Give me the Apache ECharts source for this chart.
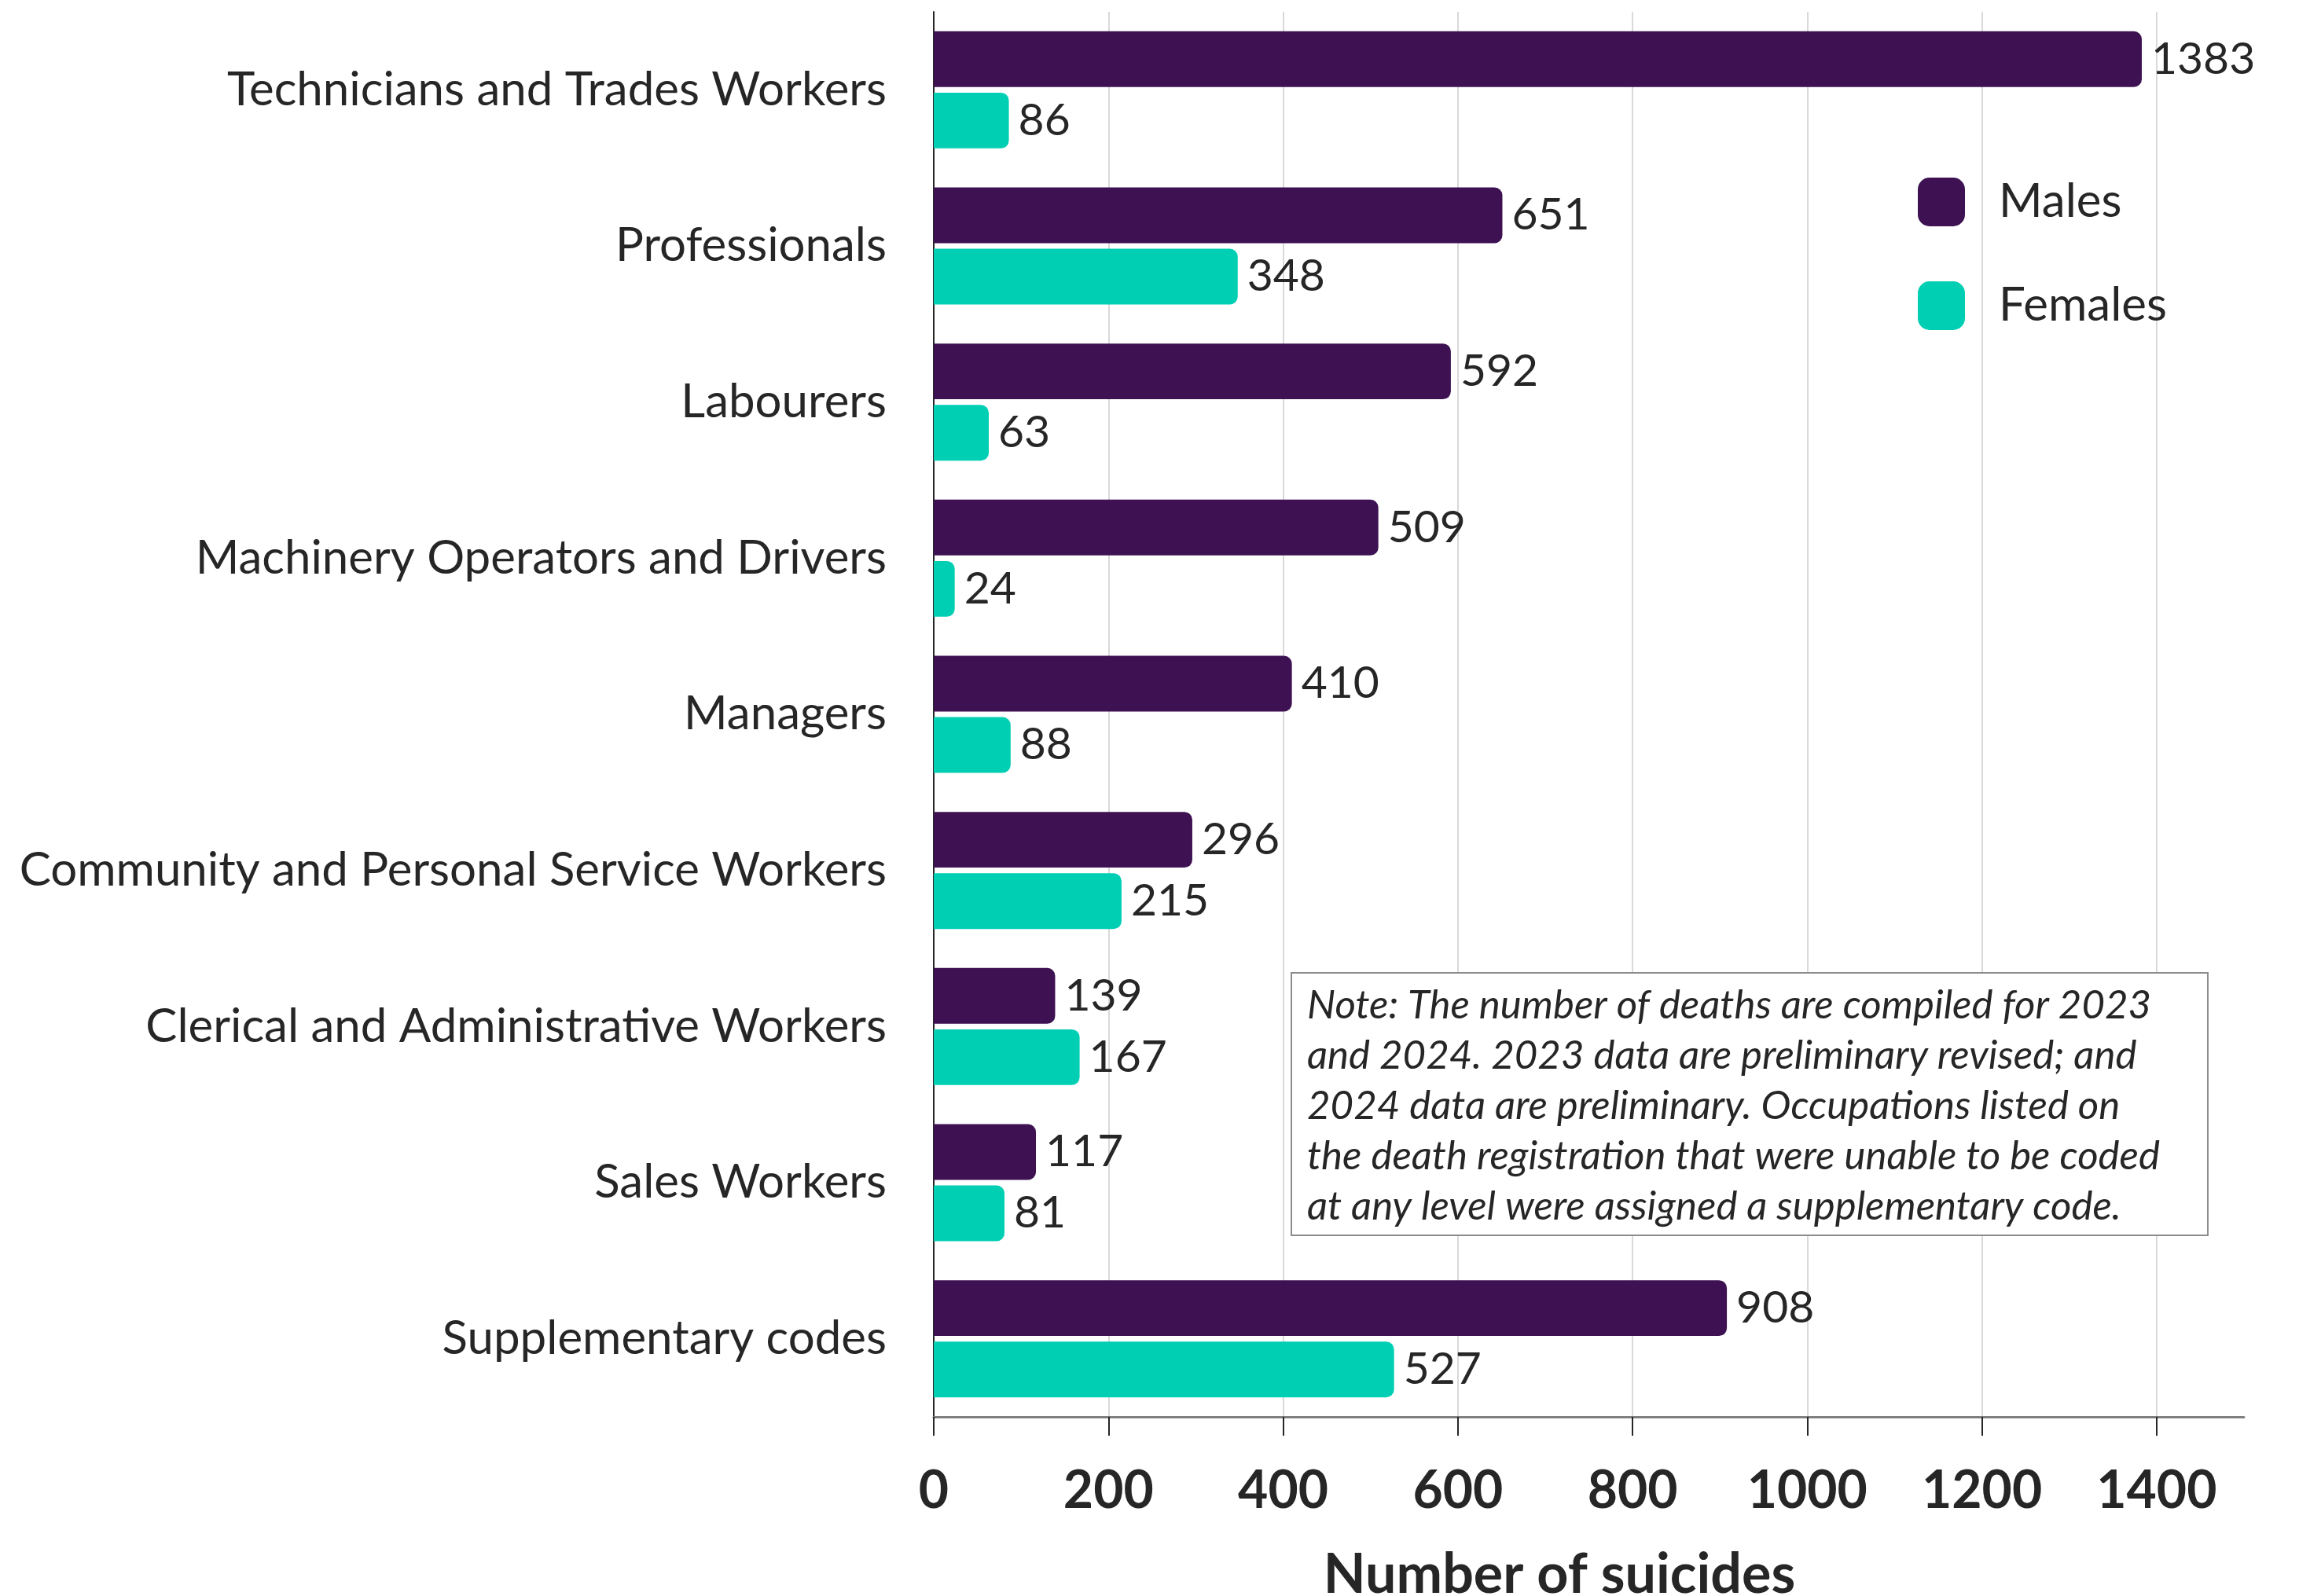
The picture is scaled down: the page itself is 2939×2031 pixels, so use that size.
<!DOCTYPE html>
<html>
<head>
<meta charset="utf-8">
<script src="https://cdn.jsdelivr.net/npm/echarts@6/dist/echarts.min.js"></script>
<style>
  html, body { margin: 0; padding: 0; background: #fff; }
  #chart { width: 2939px; height: 2031px; }
</style>
</head>
<body>
<div id="chart"></div>
<script>
var categories = [
    'Technicians and Trades Workers',
    'Professionals',
    'Labourers',
    'Machinery Operators and Drivers',
    'Managers',
    'Community and Personal Service Workers',
    'Clerical and Administrative Workers',
    'Sales Workers',
    'Supplementary codes'
];
var males = [1383, 651, 592, 509, 410, 296, 139, 117, 908];
var females = [86, 348, 63, 24, 88, 215, 167, 81, 527];

var noteLines = [
    'Note: The number of deaths are compiled for 2023',
    'and 2024. 2023 data are preliminary revised; and',
    '2024 data are preliminary. Occupations listed on',
    'the death registration that were unable to be coded',
    'at any level were assigned a supplementary code.'
];

var textColor = '#262626';
var fontFamily = 'Lato, "Open Sans", sans-serif';

var myChart = echarts.init(document.getElementById('chart'));

var valueLabel = {
    show: true,
    position: 'right',
    distance: 12,
    color: textColor,
    fontSize: 57,
    fontFamily: fontFamily
};

var option = {
    backgroundColor: '#fff',
    animation: false,
    textStyle: { fontFamily: fontFamily },
    grid: {
        left: 1188,
        right: 84,
        top: 15,
        bottom: 228,
        containLabel: false,
        outerBoundsMode: 'none'
    },
    legend: {
        orient: 'vertical',
        left: 2435,
        top: 221,
        icon: 'roundRect',
        itemWidth: 60,
        itemHeight: 62,
        itemGap: 70,
        textStyle: { color: textColor, fontSize: 60, fontFamily: fontFamily, padding: [0, 0, 0, 38] },
        data: ['Males', 'Females']
    },
    xAxis: {
        type: 'value',
        min: 0,
        max: 1500,
        interval: 200,
        name: 'Number of suicides',
        nameLocation: 'middle',
        nameGap: 166,
        nameTextStyle: {
            color: textColor,
            fontSize: 70,
            fontWeight: 'bold',
            fontFamily: fontFamily,
            padding: [0, 75, 0, 0]
        },
        axisLine: { show: true, lineStyle: { color: '#7f7f7f', width: 3 } },
        axisTick: { show: true, length: 24, lineStyle: { color: '#262626', width: 2 } },
        axisLabel: {
            color: textColor,
            fontSize: 66,
            fontWeight: 'bold',
            fontFamily: fontFamily,
            margin: 62,
            showMaxLabel: false,
            formatter: function (v) { return String(v); }
        },
        splitLine: {
            show: true,
            lineStyle: {
                color: ['#d9d9d9', '#d9d9d9', '#d9d9d9', '#d9d9d9', '#d9d9d9', '#d9d9d9', '#d9d9d9', '#d9d9d9', 'rgba(0,0,0,0)'],
                width: 2
            }
        }
    },
    yAxis: {
        type: 'category',
        inverse: true,
        data: categories,
        axisLine: { show: true, lineStyle: { color: '#262626', width: 2 } },
        axisTick: { show: false },
        axisLabel: {
            color: textColor,
            fontSize: 60,
            fontFamily: fontFamily,
            margin: 60
        }
    },
    series: [
        {
            name: 'Males',
            type: 'bar',
            data: males,
            barCategoryGap: '25%',
            barGap: '10%',
            itemStyle: { color: '#3d1152', borderRadius: [0, 10, 10, 0] },
            label: valueLabel
        },
        {
            name: 'Females',
            type: 'bar',
            data: females,
            itemStyle: { color: '#00cfb4', borderRadius: [0, 10, 10, 0] },
            label: valueLabel
        }
    ],
    graphic: [
        {
            type: 'rect',
            left: 1642,
            top: 1237,
            z: 10,
            shape: { width: 1166, height: 334 },
            style: { fill: '#fff', stroke: '#8c8c8c', lineWidth: 2 }
        },
        {
            type: 'text',
            left: 1663,
            top: 1248,
            z: 11,
            style: {
                text: noteLines.join('\n'),
                fill: textColor,
                font: 'italic 51px ' + fontFamily,
                lineHeight: 64
            }
        }
    ]
};

myChart.setOption(option);
window.addEventListener('resize', function () {
    myChart.resize();
});
</script>
</body>
</html>
